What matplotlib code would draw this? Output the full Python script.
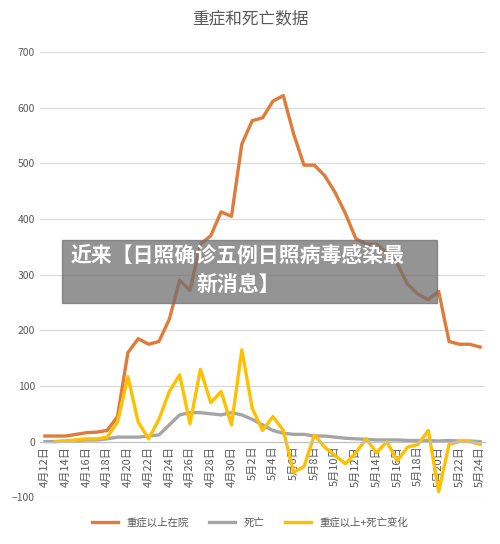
import matplotlib
matplotlib.use("Agg")
import matplotlib.pyplot as plt
import numpy as np
plt.rcParams['font.family'] = ['Noto Sans CJK SC', 'DejaVu Sans']

dates = [f"4月{d}日" for d in range(12, 31)] + [f"5月{d}日" for d in range(1, 25)]
severe = [10,10,10,13,16,17,20,45,160,185,175,180,220,290,272,355,370,413,405,535,577,582,612,622,553,497,497,478,448,410,365,355,355,340,320,283,265,255,270,180,175,175,170]
deaths = [0,0,1,2,3,3,5,8,8,8,10,12,30,48,52,52,50,48,52,48,40,30,20,15,13,13,10,10,8,6,5,4,3,3,3,2,2,2,1,2,1,1,0]
change = [np.nan,0,1,3,5,5,8,35,117,35,5,40,90,120,32,130,70,90,30,165,60,20,45,20,-55,-45,12,-10,-25,-40,-20,5,-20,0,-35,-10,-5,20,-90,-5,0,0,-5]

fig = plt.figure(figsize=(5, 5.44), dpi=100)
ax = fig.add_axes([0.0796, 0.086, 0.891, 0.818])
x = np.arange(len(dates))
ax.spines['bottom'].set_position(('data', 0))
ax.plot(x, severe, color='#E07B39', lw=2.4, label='重症以上在院')
ax.plot(x, deaths, color='#A5A5A5', lw=2.4, label='死亡')
ax.plot(x, change, color='#FFC000', lw=2.4, label='重症以上+死亡变化')
ax.set_ylim(-100, 700)
ax.set_yticks(range(-100, 701, 100))
ax.set_xlim(-0.5, len(dates) - 0.5)
ax.set_xticks(x[::2])
ax.set_xticklabels(dates[::2], rotation=90, fontsize=8, color='#595959', va='top')
ax.tick_params(axis='y', labelsize=7.5, colors='#595959', length=0)
ax.tick_params(axis='x', length=0, pad=3)
ax.grid(axis='y', color='#D9D9D9', lw=0.8)
for k, s in ax.spines.items():
    s.set_visible(k == 'bottom')
ax.spines['bottom'].set_color('#BFBFBF')
ax.set_axisbelow(True)
fig.text(0.5, 0.965, '重症和死亡数据', ha='center', va='center', fontsize=12, color='#595959')
fig.legend(loc='center', ncol=3, frameon=False, fontsize=7.5, bbox_to_anchor=(0.5, 0.04), handlelength=2.5, labelcolor='#595959')
fig.patches.append(matplotlib.patches.Rectangle((0.124, 0.443), 0.75, 0.116, transform=fig.transFigure, color='#707070', alpha=0.75, zorder=10))
fig.text(0.476, 0.53, '近来【日照确诊五例日照病毒感染最', ha='center', va='center', fontsize=15, color='white', weight='bold', zorder=11)
fig.text(0.476, 0.478, '新消息】', ha='center', va='center', fontsize=15, color='white', weight='bold', zorder=11)
fig.savefig('out.png', dpi=100)
